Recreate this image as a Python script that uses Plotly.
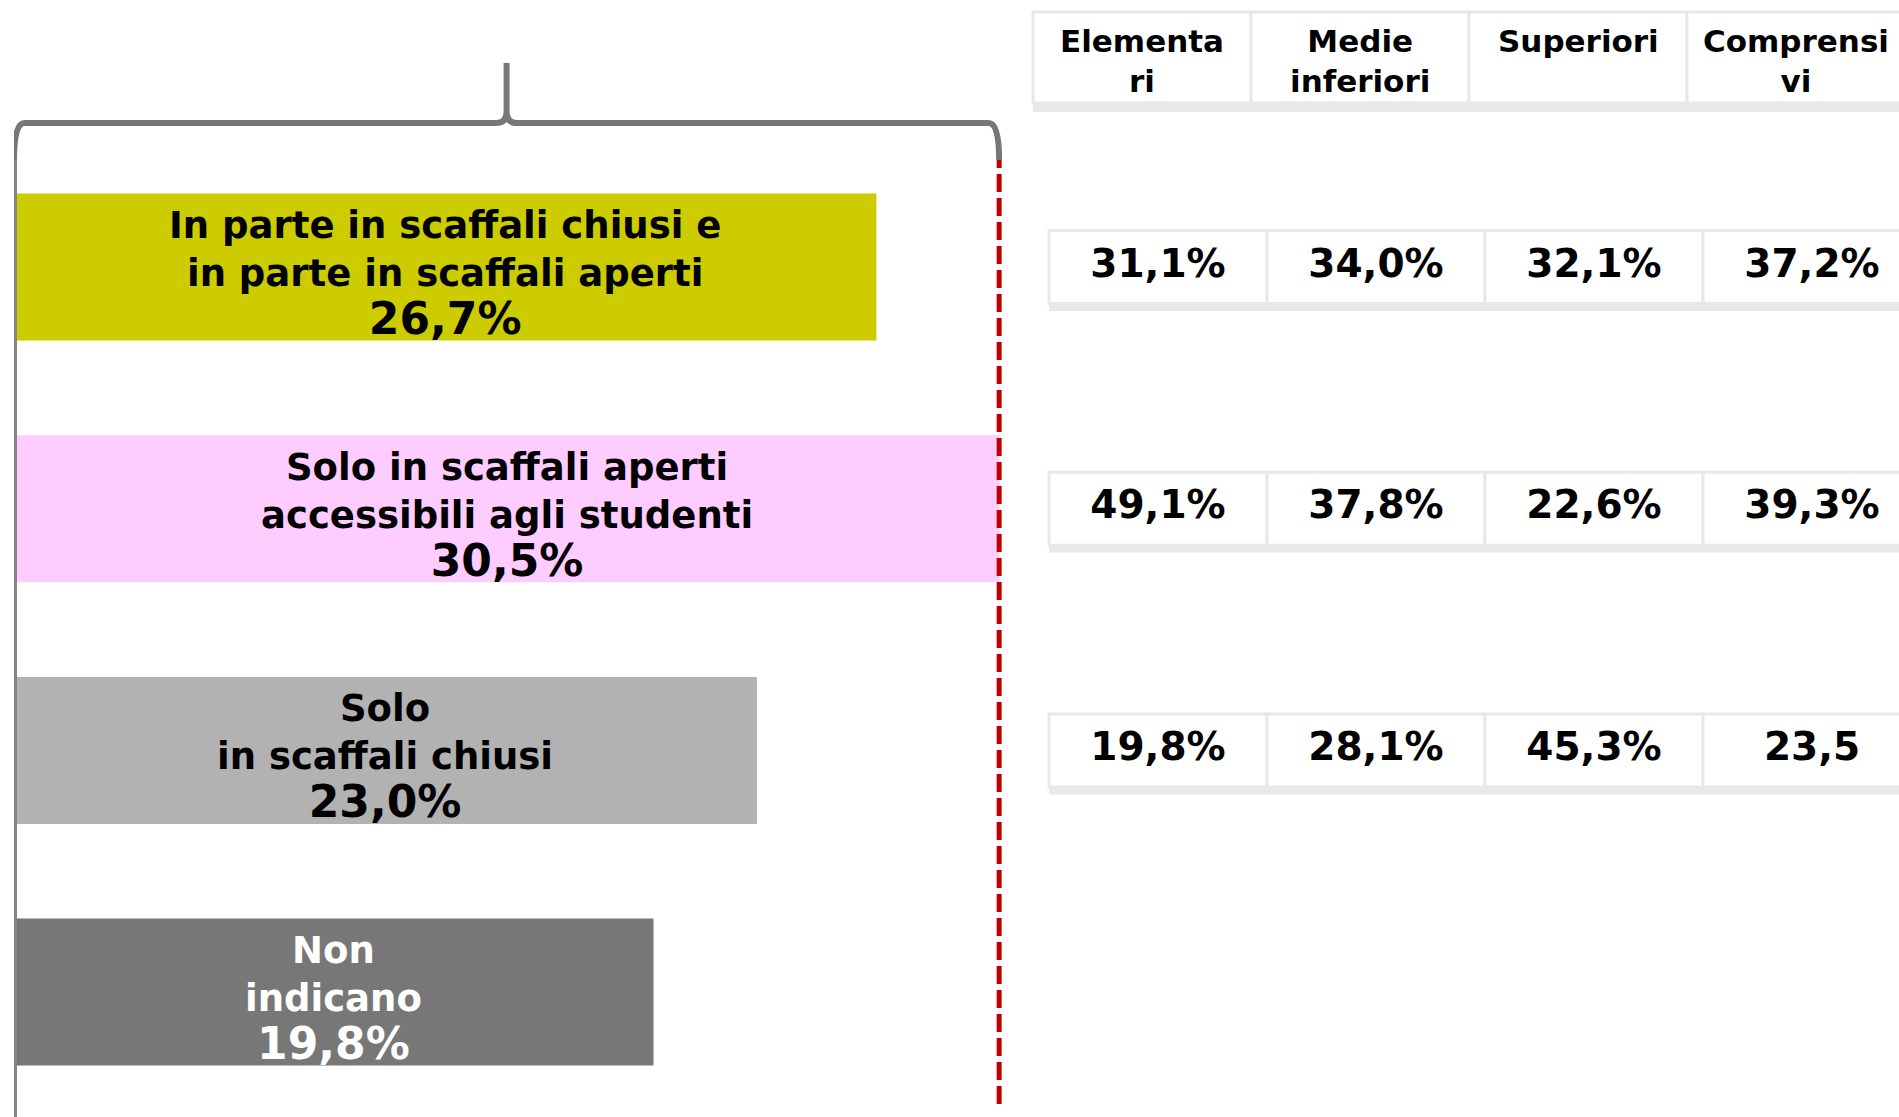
import plotly.graph_objects as go

# ---------------- data ----------------
categories = [
    "In parte in scaffali chiusi e<br>in parte in scaffali aperti",
    "Solo in scaffali aperti<br>accessibili agli studenti",
    "Solo<br>in scaffali chiusi",
    "Non<br>indicano",
]
values = [26.7, 30.5, 23.0, 19.8]
bar_colors = ["#CCCC00", "#FFCCFF", "#B2B2B2", "#777777"]
label_colors = ["#000000", "#000000", "#000000", "#FFFFFF"]

school_types = ["Elementa<br>ri", "Medie<br>inferiori", "Superiori", "Comprensi<br>vi"]
table_rows = categories[:3]
elementari = ["31,1%", "49,1%", "19,8%"]
medie = ["34,0%", "37,8%", "28,1%"]
superiori = ["32,1%", "22,6%", "45,3%"]
comprensivi = ["37,2%", "39,3%", "23,5"]
table_columns = [elementari, medie, superiori, comprensivi]

# ---------------- styling ----------------
FONT = "DejaVu Sans"
W, H = 1899, 1117
Y_TOP_PX = 160  # top of bar area (brace end)
y_dom_top = 1 - Y_TOP_PX / H
BRACE_COLOR = "#777777"
AXIS_COLOR = "#858585"
GRID_GRAY = "#E8E8E8"
COL_W = 218.0          # table column width, px
ROW0_LEFT = 1049.0     # left edge of first data-row cell, px
X2_LEFT = 1020.0       # left edge of the table sub-plot, px


def fmt(v):
    return f"{v:.1f}".replace(".", ",") + "%"


fig = go.Figure()

fig.add_trace(go.Bar(
    x=values, y=categories, orientation="h",
    marker=dict(color=bar_colors, line=dict(width=0)),
    width=0.608, xaxis="x", yaxis="y", hoverinfo="skip", showlegend=False,
))

annotations = []
for cat, v, col in zip(categories, values, label_colors):
    annotations.append(dict(
        x=v / 2, y=cat, xref="x", yref="y", showarrow=False, yshift=-7,
        text=f"{cat}<br><span style='font-size:44px'>{fmt(v)}</span>",
        font=dict(family=FONT, size=37, color=col, weight="bold"),
        align="center", xanchor="center", yanchor="middle",
    ))

# table values
for j, (st, colvals) in enumerate(zip(school_types, table_columns)):
    fig.add_trace(go.Scatter(
        x=[j] * len(table_rows), y=table_rows, mode="text", text=colvals,
        textposition="middle center",
        textfont=dict(family=FONT, size=39, color="#000000", weight="bold"),
        xaxis="x2", yaxis="y", hoverinfo="skip", showlegend=False,
    ))

shapes = []
half = 0.151
strip = 0.031
ncol = len(school_types)
for i in range(len(table_rows)):
    shapes.append(dict(type="rect", xref="x2", yref="y", x0=-0.5, x1=ncol - 0.5,
                       y0=i + half, y1=i + half + strip, fillcolor=GRID_GRAY,
                       line=dict(width=0), layer="below"))
    for j in range(ncol):
        shapes.append(dict(type="rect", xref="x2", yref="y", x0=j - 0.5, x1=j + 0.5,
                           y0=i - half, y1=i + half, fillcolor="white",
                           line=dict(color=GRID_GRAY, width=3), layer="below"))

# header
hshift = -16 / COL_W
h_top = 1 - 12 / H
h_bot = 1 - 103 / H
h_strip = 1 - 112 / H
shapes.append(dict(type="rect", xref="x2", yref="paper", x0=-0.5 + hshift, x1=ncol - 0.5 + hshift,
                   y0=h_strip, y1=h_bot, fillcolor=GRID_GRAY, line=dict(width=0), layer="below"))
for j, st in enumerate(school_types):
    shapes.append(dict(type="rect", xref="x2", yref="paper", x0=j - 0.5 + hshift, x1=j + 0.5 + hshift,
                       y0=h_bot, y1=h_top, fillcolor="white",
                       line=dict(color=GRID_GRAY, width=3), layer="below"))
    annotations.append(dict(
        x=j + hshift, y=1 - 21 / H, xref="x2", yref="paper", showarrow=False,
        text=st, font=dict(family=FONT, size=31, color="#000000", weight="bold"),
        align="center", xanchor="center", yanchor="top",
    ))

# brace over the bars, from 0 to the maximum value
xmax = max(values)
L, R, M = 0.0, xmax, xmax / 2
r = 0.32
yt = 1 - 123 / H
yb = y_dom_top
ys = 1 - 63 / H
d = 0.010
path = (f"M {L},{yb} Q {L},{yt} {L + r},{yt} L {M - r},{yt} Q {M},{yt} {M},{yt + d} "
        f"L {M},{ys} M {M},{yt + d} Q {M},{yt} {M + r},{yt} L {R - r},{yt} Q {R},{yt} {R},{yb}")
shapes.append(dict(type="path", xref="x", yref="paper", path=path,
                   line=dict(color=BRACE_COLOR, width=6)))
# left axis line
shapes.append(dict(type="line", xref="x", yref="paper", x0=0, x1=0, y0=0, y1=yb,
                   line=dict(color=AXIS_COLOR, width=6)))
# red dashed line at max value
shapes.append(dict(type="line", xref="x", yref="paper", x0=xmax, x1=xmax,
                   y0=1 - 1104 / H, y1=yb,
                   line=dict(color="#C00000", width=5, dash="18px,6px")))

# y scale: category 0 centred at 267 px, 241.7 px per category
c0, step = 267.0, 241.7
y_lo = (Y_TOP_PX - c0) / step
y_hi = (H - c0) / step

x2_start = -0.5 - (ROW0_LEFT - X2_LEFT) / COL_W
x2_end = x2_start + (W - X2_LEFT) / COL_W

hidden = dict(visible=False, showgrid=False, zeroline=False, showticklabels=False)
fig.update_layout(
    width=W, height=H, margin=dict(l=0, r=0, t=0, b=0),
    paper_bgcolor="white", plot_bgcolor="rgba(0,0,0,0)",
    xaxis=dict(domain=[14 / W, (14 + 31 * 32.3) / W], range=[0, 31], **hidden),
    xaxis2=dict(domain=[X2_LEFT / W, 1.0], range=[x2_start, x2_end], anchor="y", **hidden),
    yaxis=dict(domain=[0, y_dom_top], type="category", categoryorder="array",
               categoryarray=categories, range=[y_hi, y_lo], **hidden),
    shapes=shapes, annotations=annotations, showlegend=False,
)

fig.write_html("out.html", config={"displayModeBar": False},
               post_script="document.body.style.margin='0';document.body.style.overflow='hidden';")
